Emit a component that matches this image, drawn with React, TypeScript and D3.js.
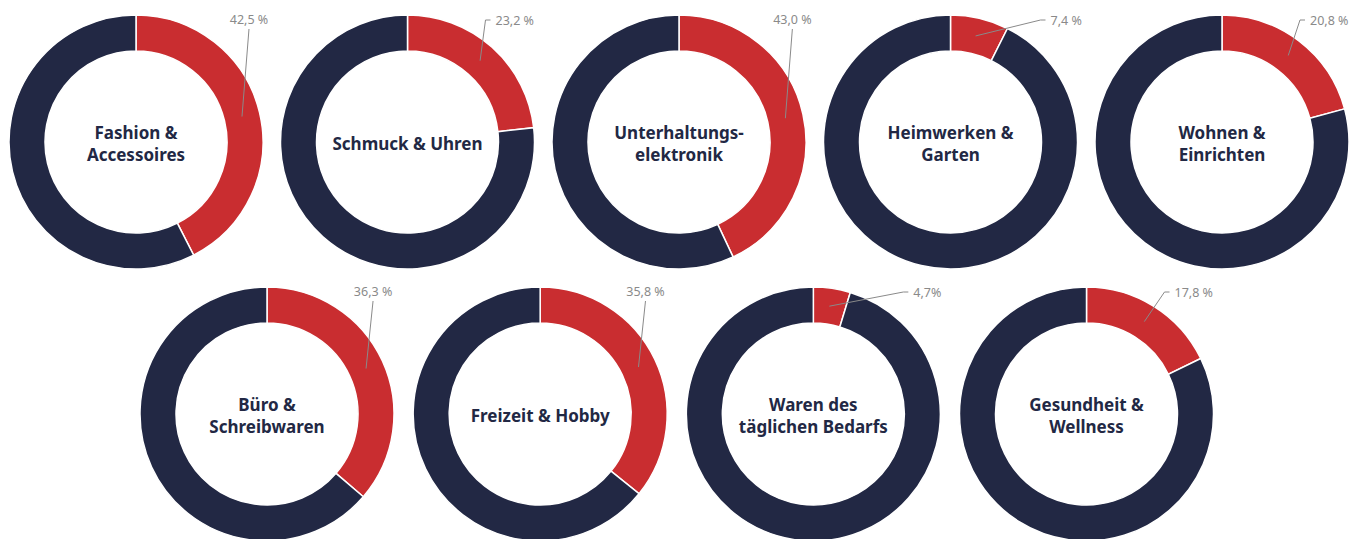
import React from "react";
import * as d3 from "d3";

const categoriesTop = [["Fashion &", "Accessoires"], ["Schmuck & Uhren"], ["Unterhaltungs-", "elektronik"], ["Heimwerken &", "Garten"], ["Wohnen &", "Einrichten"]];
const valuesTop = [42.5, 23.2, 43.0, 7.4, 20.8];
const labelsTop = ["42,5 %", "23,2 %", "43,0 %", "7,4 %", "20,8 %"];

const categoriesBottom = [["Büro &", "Schreibwaren"], ["Freizeit & Hobby"], ["Waren des", "täglichen Bedarfs"], ["Gesundheit &", "Wellness"]];
const valuesBottom = [36.3, 35.8, 4.7, 17.8];
const labelsBottom = ["36,3 %", "35,8 %", "4,7%", "17,8 %"];

const W = 1368;
const H = 539;
const R_OUT = 127;
const R_IN = 91;
const NAVY = "#222844";
const RED = "#c92d30";
const GRAY = "#8a8a8a";

function Donut({ cx, cy, value, lines, label }) {
  const pie = d3.pie<number>().sort(null).value((d) => d);
  const arcs = pie([value, 100 - value]);
  const arc = d3.arc<any>().innerRadius(R_IN).outerRadius(R_OUT);
  const mid = (arcs[0].startAngle + arcs[0].endAngle) / 2;
  const rm = (R_IN + R_OUT) / 2;
  const px = rm * Math.sin(mid);
  const py = -rm * Math.cos(mid);
  const top = -R_OUT;
  let leader;
  let text;
  if (value > 30) {
    const ex = px + 7;
    const ey = top + 14;
    leader = <line x1={px} y1={py} x2={ex} y2={ey} stroke={GRAY} strokeWidth={1} />;
    text = (
      <text x={ex} y={top + 9} textAnchor="middle" fill={GRAY} fontSize={12.5} fontFamily="'Noto Sans', sans-serif">
        {label}
      </text>
    );
  } else {
    const ex = value < 10 ? 90 : 78;
    const ey = top + 5;
    leader = (
      <polyline points={`${px},${py} ${ex},${ey} ${ex + 5},${ey}`} fill="none" stroke={GRAY} strokeWidth={1} />
    );
    text = (
      <text x={ex + 10} y={ey + 4.5} textAnchor="start" fill={GRAY} fontSize={12.5} fontFamily="'Noto Sans', sans-serif">
        {label}
      </text>
    );
  }
  const lh = 22;
  const y0 = 2 - ((lines.length - 1) * lh) / 2;
  return (
    <g transform={`translate(${cx},${cy})`}>
      {arcs.map((a, i) => (
        <path key={i} d={arc(a) || ""} fill={i === 0 ? RED : NAVY} stroke="#fff" strokeWidth={1.5} />
      ))}
      {leader}
      {text}
      {lines.map((l, i) => (
        <text
          key={i}
          x={0}
          y={y0 + i * lh}
          dy="0.35em"
          textAnchor="middle"
          fill={NAVY}
          fontSize={17}
          fontWeight={700}
          fontFamily="'Noto Sans', sans-serif"
        >
          {l}
        </text>
      ))}
    </g>
  );
}

export default function App() {
  const xTop = d3.scalePoint<number>().domain(d3.range(valuesTop.length)).range([136, 1222]);
  const xBottom = d3.scalePoint<number>().domain(d3.range(valuesBottom.length)).range([267, 1086.5]);
  return (
    <svg width={W} height={H} style={{ position: "absolute", left: 0, top: 0, background: "#fff" }}>
      {valuesTop.map((v, i) => (
        <Donut key={"t" + i} cx={xTop(i)} cy={142} value={v} lines={categoriesTop[i]} label={labelsTop[i]} />
      ))}
      {valuesBottom.map((v, i) => (
        <Donut key={"b" + i} cx={xBottom(i)} cy={414} value={v} lines={categoriesBottom[i]} label={labelsBottom[i]} />
      ))}
    </svg>
  );
}
